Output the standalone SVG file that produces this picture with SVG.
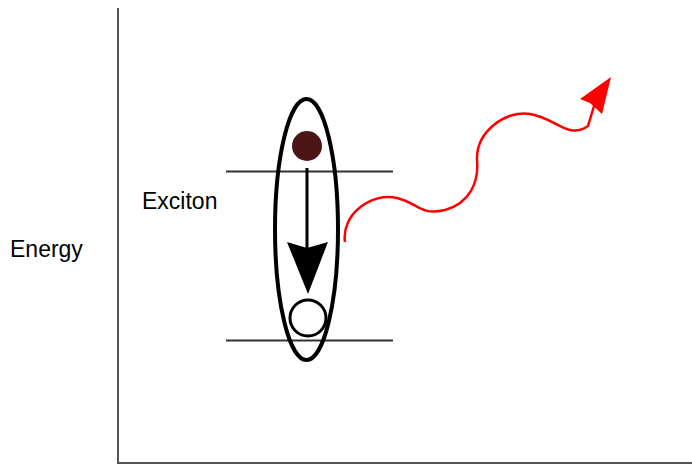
<svg xmlns="http://www.w3.org/2000/svg" width="692" height="465" viewBox="0 0 692 465">
<style>
.lbl{font-family:"Liberation Sans",Arial,sans-serif;font-size:23px;fill:#000}
.axis{stroke:#555;stroke-width:2;fill:none}
.lvl{stroke:#333;stroke-width:2;fill:none}
</style>
<rect width="692" height="465" fill="#fff"/>
<g id="axes">
<path class="axis" d="M118,8 L118,463 L692,463"/>
</g>
<g id="levels">
<line class="lvl" x1="226" y1="171.5" x2="393" y2="171.5"/>
<line class="lvl" x1="226" y1="340.5" x2="393" y2="340.5"/>
</g>
<g id="label-energy"><text class="lbl" x="10" y="257">Energy</text></g>
<g id="label-exciton"><text class="lbl" x="142" y="209">Exciton</text></g>
<g id="exciton">
<ellipse cx="306.5" cy="229.5" rx="31.5" ry="130.5" fill="none" stroke="#000" stroke-width="4"/>
</g>
<g id="electron"><circle cx="307" cy="146" r="15" fill="#4d1616"/></g>
<g id="hole"><circle cx="308" cy="318" r="18" fill="#fff" stroke="#000" stroke-width="3"/></g>
<g id="connectors">
<line x1="307" y1="168" x2="307" y2="250" stroke="#000" stroke-width="3"/>
<path d="M287,242 L307,248 L328,242 L308,294 Z" fill="#000"/>
<path d="M345,242 C341,214 372,192 397,198 C418,203 420,216 445,210 C470,203 479,182 477,160 C476,132 505,110 530,114 C556,118 568,140 588,126 L594,106" fill="none" stroke="#ff0000" stroke-width="2.5"/>
<path d="M611,77 L580,99 L590,103 L602,114 Z" fill="#ff0000"/>
</g>
</svg>
